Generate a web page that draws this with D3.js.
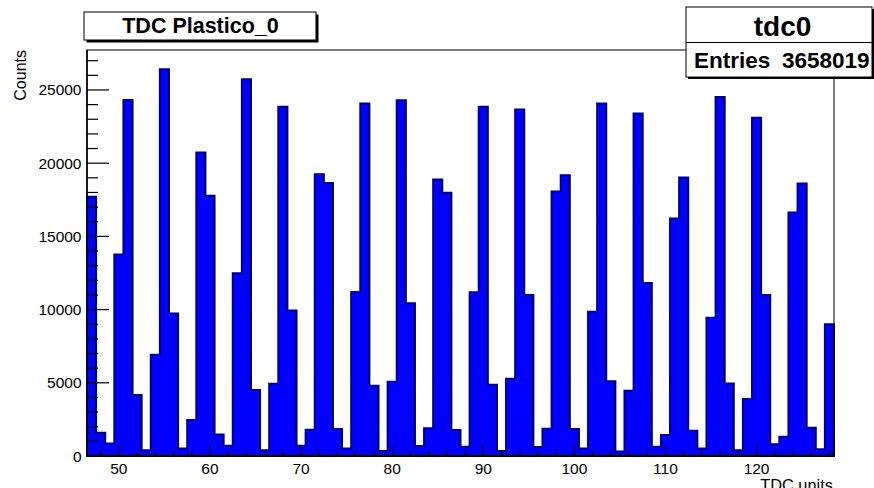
<!DOCTYPE html>
<html>
<head>
<meta charset="utf-8">
<script src="https://cdn.jsdelivr.net/npm/d3@7"></script>
<style>
  html, body { margin: 0; padding: 0; background: #fff; }
  svg { display: block; font-family: "Liberation Sans", Arial, Helvetica, sans-serif; }
</style>
</head>
<body>
<svg id="chart" width="874" height="488"></svg>
<script>
// Histogram "tdc0": one bin per TDC unit, bins centred on integers 47..128
const firstBin = 47;
const counts = [
  17700, 1590, 860, 13770, 24320, 4160, 390, 6910, 26410, 9730,
  520, 2460, 20730, 17770, 1460, 700, 12480, 25730, 4500, 390,
  4930, 23860, 9930, 700, 1800, 19250, 18640, 1840, 520, 11200,
  24070, 4800, 340, 5070, 24300, 10430, 680, 1890, 18890, 17980,
  1770, 640, 11180, 23860, 4860, 340, 5270, 23660, 11000, 610,
  1860, 18070, 19180, 1840, 520, 9860, 24070, 5110, 300, 4460,
  23390, 11820, 640, 1430, 16230, 19020, 1730, 520, 9450, 24520,
  4960, 390, 3890, 23110, 11000, 800, 1320, 16640, 18610, 1930,
  460, 9000
];
const xMajorTicks = [50, 60, 70, 80, 90, 100, 110, 120];
const yMajorTicks = [0, 5000, 10000, 15000, 20000, 25000];
const histTitle = "TDC Plastico_0";
const histName = "tdc0";
const entries = "3658019";
const xTitle = "TDC units";
const yTitle = "Counts";

const svg = d3.select("#chart");
const W = 874, H = 488;
const frame = { left: 87, right: 834, top: 50, bottom: 456 };

const xLo = firstBin - 0.5, xHi = firstBin + counts.length - 0.5;
const yMax = d3.max(counts) * 1.05;

const x = d3.scaleLinear().domain([xLo, xHi]).range([frame.left, frame.right]);
const y = d3.scaleLinear().domain([0, yMax]).range([frame.bottom, frame.top]);

svg.append("rect").attr("width", W).attr("height", H).attr("fill", "#fff");

// step outline of the histogram, closed down to zero at both ends
const pts = [[xLo, 0]];
counts.forEach((c, i) => {
  const lo = xLo + i, hi = lo + 1;
  pts.push([lo, c], [hi, c]);
});
pts.push([xHi, 0]);

const line = d3.line().x(d => x(d[0])).y(d => y(d[1]));

svg.append("path")
  .attr("d", line(pts) + "Z")
  .attr("fill", "#0000ff")
  .attr("stroke", "#000070")
  .attr("stroke-width", 2)
  .attr("stroke-linejoin", "miter");

// frame
svg.append("rect")
  .attr("x", frame.left).attr("y", frame.top)
  .attr("width", frame.right - frame.left)
  .attr("height", frame.bottom - frame.top)
  .attr("fill", "none").attr("stroke", "#000").attr("stroke-width", 1);

const axes = svg.append("g").attr("stroke", "#000");
axes.append("line")
  .attr("x1", frame.left).attr("x2", frame.right)
  .attr("y1", frame.bottom).attr("y2", frame.bottom)
  .attr("stroke-width", 1.6);
axes.append("line")
  .attr("x1", frame.left).attr("x2", frame.left)
  .attr("y1", frame.top).attr("y2", frame.bottom)
  .attr("stroke-width", 1.6);

// x ticks: major every 10, minor every 2
d3.range(48, xHi, 2).forEach(v => {
  const major = xMajorTicks.includes(v);
  axes.append("line")
    .attr("x1", x(v)).attr("x2", x(v))
    .attr("y1", frame.bottom).attr("y2", frame.bottom - (major ? 11 : 5.5))
    .attr("stroke-width", 1.2);
});
// y ticks: major every 5000, minor every 1000
d3.range(0, yMax, 1000).forEach(v => {
  const major = yMajorTicks.includes(v);
  axes.append("line")
    .attr("x1", frame.left).attr("x2", frame.left + (major ? 22 : 11))
    .attr("y1", y(v)).attr("y2", y(v))
    .attr("stroke-width", 1.2);
});

svg.append("g").selectAll("text").data(xMajorTicks).join("text")
  .attr("x", d => x(d)).attr("y", 474)
  .attr("text-anchor", "middle")
  .attr("font-size", 15.5).attr("fill", "#000")
  .text(d => d);

svg.append("g").selectAll("text").data(yMajorTicks).join("text")
  .attr("x", 81.5).attr("y", d => y(d) + 5.5)
  .attr("text-anchor", "end")
  .attr("font-size", 15.5).attr("fill", "#000")
  .text(d => d);

// axis titles (x title sits at the very bottom edge of the canvas)
svg.append("text")
  .attr("x", frame.right - 1).attr("y", 491)
  .attr("text-anchor", "end").attr("font-size", 16.4)
  .text(xTitle);
svg.append("text")
  .attr("transform", `translate(25.5,${frame.top}) rotate(-90)`)
  .attr("text-anchor", "end").attr("font-size", 16)
  .text(yTitle);

// title pave with drop shadow
const tb = { x: 84, y: 12, w: 232, h: 28 };
svg.append("rect").attr("x", tb.x + 2.5).attr("y", tb.y + 2.5)
  .attr("width", tb.w).attr("height", tb.h).attr("fill", "#000");
svg.append("rect").attr("x", tb.x).attr("y", tb.y)
  .attr("width", tb.w).attr("height", tb.h)
  .attr("fill", "#fff").attr("stroke", "#000").attr("stroke-width", 1);
svg.append("text")
  .attr("x", tb.x + tb.w / 2 + 0.5).attr("y", 32.5)
  .attr("text-anchor", "middle").attr("font-weight", "bold")
  .attr("font-size", 21.5)
  .text(histTitle);

// statistics box
const sb = { x: 686, y: 7, w: 186, h: 70, split: 42.5 };
svg.append("rect").attr("x", sb.x + 2).attr("y", sb.y + 2)
  .attr("width", sb.w).attr("height", sb.h).attr("fill", "#000");
svg.append("rect").attr("x", sb.x).attr("y", sb.y)
  .attr("width", sb.w).attr("height", sb.h)
  .attr("fill", "#fff").attr("stroke", "#000").attr("stroke-width", 1);
svg.append("line")
  .attr("x1", sb.x).attr("x2", sb.x + sb.w)
  .attr("y1", sb.split).attr("y2", sb.split)
  .attr("stroke", "#000").attr("stroke-width", 1);
svg.append("text")
  .attr("x", 782.5).attr("y", 36)
  .attr("text-anchor", "middle").attr("font-weight", "bold")
  .attr("font-size", 28)
  .text(histName);
svg.append("text")
  .attr("x", 694).attr("y", 68)
  .attr("font-weight", "bold").attr("font-size", 22.5)
  .text("Entries");
svg.append("text")
  .attr("x", 869.5).attr("y", 68)
  .attr("text-anchor", "end")
  .attr("font-weight", "bold").attr("font-size", 22.5)
  .text(entries);
</script>
</body>
</html>
